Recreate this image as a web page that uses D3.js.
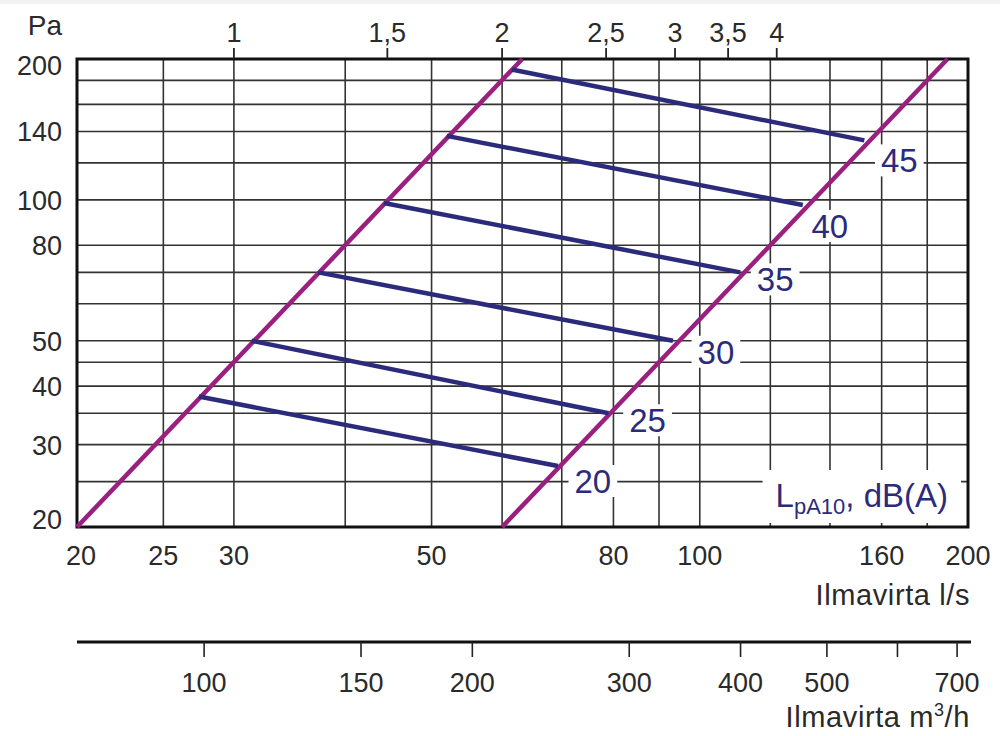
<!DOCTYPE html>
<html>
<head>
<meta charset="utf-8">
<script src="https://cdn.jsdelivr.net/npm/d3@7"></script>
<style>
body{margin:0;background:#fff;}
text{font-family:"Liberation Sans",Arial,sans-serif;fill:#2a2a2a;}
</style>
</head>
<body>
<div id="chart"></div>
<script>
(function(){

    // grid / tick values (l/s and Pa)
    var flowGrid = [25,30,40,50,60,70,80,90,100,120,140,160,180];
    var flowLabels = [20,25,30,50,80,100,160,200];
    var paGrid = [25,30,35,40,45,50,60,70,80,100,120,140,160,180];
    var paLabels = [20,30,40,50,80,100,140,200];

    // top scale, labels and the l/s they sit on
    var topLabels = ["1","1,5","2","2,5","3","3,5","4"];
    var topFlows = [30,44.6,60,78.5,93.8,107.6,122];

    // second axis in m3/h
    var m3hTicks = [100,150,200,300,400,500,600,700];
    var m3hLabels = [100,150,200,300,400,500,700];

    // system curves [l/s, Pa]
    var systemLines = [
        [[20,20],[63.2,200]],
        [[60,20],[189.7,200]]
    ];

    // sound level lines LpA10 dB(A)
    var soundLevels = [20,25,30,35,40,45];
    var soundStart = [[27.4,38],[31.4,50],[37.3,70],[44.2,98.5],[52,137],[61.5,190]];
    var soundEnd = [[69.3,27],[79,35],[93.3,50],[111,70],[130.5,97.5],[153,134]];

    // label offsets from line end (px)
    var labelOffset = [[35,15],[39,7],[43,11],[35,7],[27,21],[35,20]];

    var width = 1000, height = 736;
    var magenta = "#9a1f7f", navy = "#2c2b7b", grid = "#333";

    var svg = d3.select("#chart").append("svg")
        .attr("width", width)
        .attr("height", height);

    svg.append("rect").attr("x",0).attr("y",0).attr("width",width).attr("height",4).attr("fill","#f2f2f2");

    var x = d3.scaleLog().domain([20,200]).range([77,968]);
    var y = d3.scaleLog().domain([20,200]).range([527,59]);

    // grid
    var g = svg.append("g");
    g.selectAll(".vg").data(flowGrid).enter().append("line")
        .attr("x1", function(d){return x(d);}).attr("x2", function(d){return x(d);})
        .attr("y1", y(20)).attr("y2", y(200))
        .attr("stroke", grid).attr("stroke-width", 1.6);
    g.selectAll(".hg").data(paGrid).enter().append("line")
        .attr("y1", function(d){return y(d);}).attr("y2", function(d){return y(d);})
        .attr("x1", x(20)).attr("x2", x(200))
        .attr("stroke", grid).attr("stroke-width", 1.6);

    var boxes = svg.append("g");

    // frame
    svg.append("rect")
        .attr("x", x(20)).attr("y", y(200))
        .attr("width", x(200)-x(20)).attr("height", y(20)-y(200))
        .attr("fill","none").attr("stroke","#111").attr("stroke-width",3);

    // top axis
    svg.selectAll(".tt").data(topFlows).enter().append("line")
        .attr("x1", function(d){return x(d);}).attr("x2", function(d){return x(d);})
        .attr("y1", 48).attr("y2", y(200))
        .attr("stroke","#222").attr("stroke-width",1.8);
    svg.selectAll(".tl").data(topLabels).enter().append("text")
        .attr("x", function(d,i){return x(topFlows[i]);})
        .attr("y", 42)
        .attr("text-anchor","middle")
        .attr("font-size", 27)
        .text(function(d){return d;});

    // y labels
    svg.selectAll(".yl").data(paLabels).enter().append("text")
        .attr("x", 62)
        .attr("y", function(d){return Math.max(65, Math.min(519, y(d))) + 10;})
        .attr("text-anchor","end")
        .attr("font-size", 27)
        .text(function(d){return d;});
    svg.append("text").attr("x",62).attr("y",35).attr("text-anchor","end")
        .attr("font-size",28).text("Pa");

    // x labels
    svg.selectAll(".xl").data(flowLabels).enter().append("text")
        .attr("x", function(d){return Math.max(81, Math.min(970, x(d)));})
        .attr("y", 565)
        .attr("text-anchor","middle")
        .attr("font-size", 27)
        .text(function(d){return d;});
    svg.append("text").attr("x",970).attr("y",605).attr("text-anchor","end")
        .attr("font-size",29).attr("letter-spacing",0.6).text("Ilmavirta l/s");

    // m3/h axis
    svg.append("line").attr("x1",77).attr("x2",971).attr("y1",642).attr("y2",642)
        .attr("stroke","#111").attr("stroke-width",3);
    svg.selectAll(".mt").data(m3hTicks).enter().append("line")
        .attr("x1", function(d){return x(d/3.6);}).attr("x2", function(d){return x(d/3.6);})
        .attr("y1", 642).attr("y2", 657)
        .attr("stroke","#222").attr("stroke-width",1.6);
    svg.selectAll(".ml").data(m3hLabels).enter().append("text")
        .attr("x", function(d){return x(d/3.6);})
        .attr("y", 692)
        .attr("text-anchor","middle")
        .attr("font-size", 27)
        .text(function(d){return d;});
    var mt = svg.append("text").attr("x",970).attr("y",727).attr("text-anchor","end")
        .attr("font-size",29).attr("letter-spacing",0.6);
    mt.append("tspan").text("Ilmavirta m");
    mt.append("tspan").attr("font-size",18).attr("dy",-11).text("3");
    mt.append("tspan").attr("dy",11).text("/h");

    // curves
    var line = d3.line().x(function(d){return x(d[0]);}).y(function(d){return y(d[1]);});
    svg.selectAll(".sys").data(systemLines).enter().append("path")
        .attr("d", line).attr("fill","none")
        .attr("stroke", magenta).attr("stroke-width",4.5);
    svg.selectAll(".snd").data(soundLevels).enter().append("path")
        .attr("d", function(d,i){return line([soundStart[i], soundEnd[i]]);})
        .attr("fill","none")
        .attr("stroke", navy).attr("stroke-width",4.5);

    // level labels with white boxes
    soundLevels.forEach(function(lv, i){
        var cx = x(soundEnd[i][0]) + labelOffset[i][0];
        var cy = y(soundEnd[i][1]) + labelOffset[i][1];
        var t = svg.append("text")
            .attr("x", cx).attr("y", cy).attr("dy","0.36em")
            .attr("text-anchor","middle")
            .attr("font-size", 33)
            .style("fill", navy)
            .text(lv);
        var b = t.node().getBBox();
        boxes.append("rect")
            .attr("x", b.x-6).attr("y", cy-16)
            .attr("width", b.width+12).attr("height", 32)
            .attr("fill","#fff");
    });

    var lt = svg.append("text").attr("x",948).attr("y",507).attr("text-anchor","end")
        .attr("font-size",33).style("fill", navy);
    lt.append("tspan").text("L");
    lt.append("tspan").attr("font-size",22).attr("dy",7).text("pA10");
    lt.append("tspan").attr("dy",-7).text(", dB(A)");
    var lb = lt.node().getBBox();
    boxes.append("rect")
        .attr("x", lb.x-13).attr("y", 470)
        .attr("width", lb.width+26).attr("height", 53)
        .attr("fill","#fff");

})();
</script>
</body>
</html>
